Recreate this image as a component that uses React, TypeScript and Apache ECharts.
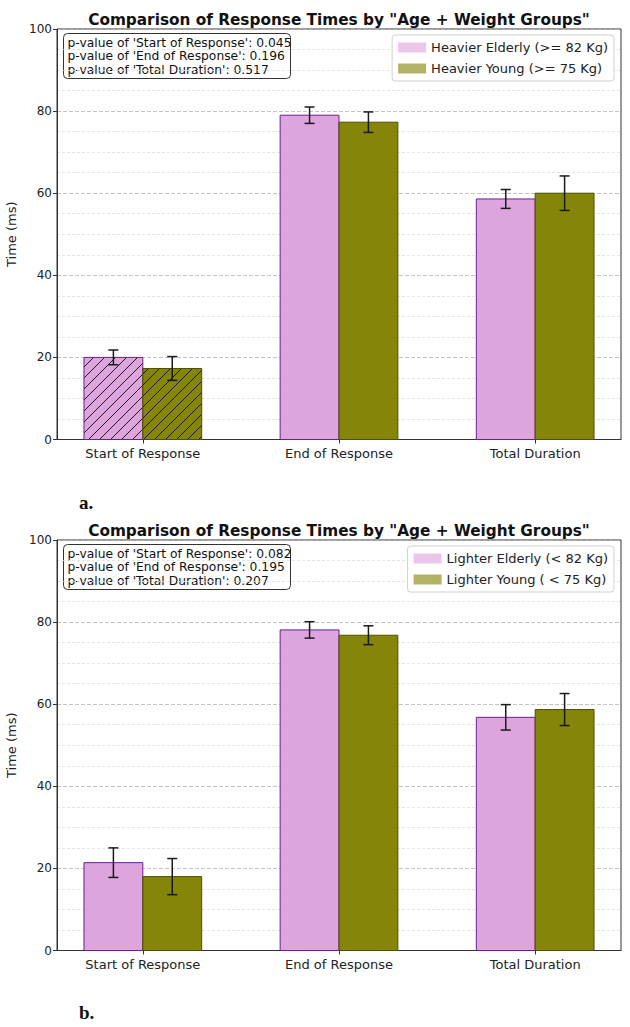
import React, { useEffect, useRef } from "react";
import * as echarts from "echarts";

// Categories shown on both panels
const categories = ["Start of Response", "End of Response", "Total Duration"];

// Panel a: heavier participants
const heavierElderlyMeans = [20.0, 79.0, 58.6];
const heavierElderlyErrors = [1.8, 2.0, 2.3];
const heavierYoungMeans = [17.3, 77.3, 60.0];
const heavierYoungErrors = [2.9, 2.5, 4.2];
const pValuesA = ["0.045", "0.196", "0.517"];

// Panel b: lighter participants
const lighterElderlyMeans = [21.4, 78.1, 56.8];
const lighterElderlyErrors = [3.6, 2.0, 3.1];
const lighterYoungMeans = [18.0, 76.8, 58.7];
const lighterYoungErrors = [4.4, 2.3, 3.9];
const pValuesB = ["0.082", "0.195", "0.207"];

const yTicks = { min: 0, max: 100, step: 20 };

const FONT = "DejaVu Sans";
const BAR_W = 0.3;
const PLUM = "#DDA0DD";
const PLUM_EDGE = "#6E1E8C";
const OLIVE = "#808000";
const OLIVE_EDGE = "#4F4F00";
const PLUM_LEGEND = "rgba(221,160,221,0.6)";
const OLIVE_LEGEND = "rgba(128,128,0,0.6)";

function hatchLines(x0: number, y0: number, x1: number, y1: number, spacing: number, stroke: string) {
  // "/" hatch: lines where x + y = c, clipped to the bar rectangle
  const out: any[] = [];
  const cStart = Math.ceil((x0 + y0) / spacing) * spacing;
  for (let c = cStart; c <= x1 + y1; c += spacing) {
    const xa = Math.max(x0, c - y1);
    const xb = Math.min(x1, c - y0);
    if (xb - xa > 0.5) {
      out.push({
        type: "line",
        shape: { x1: xa, y1: c - xa, x2: xb, y2: c - xb },
        style: { stroke, lineWidth: 1 },
        silent: true,
      });
    }
  }
  return out;
}

function barRenderer(offset: number, fill: string, edge: string, hatch: boolean[]) {
  return (params: any, api: any) => {
    const idx = api.value(0);
    const val = api.value(1);
    const err = api.value(2);
    const tl = api.coord([idx + offset - BAR_W / 2, val]);
    const br = api.coord([idx + offset + BAR_W / 2, 0]);
    const cx = api.coord([idx + offset, 0])[0];
    const top = api.coord([idx + offset, val + err])[1];
    const bot = api.coord([idx + offset, val - err])[1];
    const x0 = tl[0], y0 = tl[1], x1 = br[0], y1 = br[1];
    const children: any[] = [
      {
        type: "rect",
        shape: { x: x0, y: y0, width: x1 - x0, height: y1 - y0 },
        style: { fill, opacity: 0.96 },
      },
    ];
    if (hatch[idx]) children.push(...hatchLines(x0, y0, x1, y1, 11, "#1a1a1a"));
    children.push({
      type: "rect",
      shape: { x: x0, y: y0, width: x1 - x0, height: y1 - y0 },
      style: { fill: "none", stroke: edge, lineWidth: 1 },
    });
    const cap = 5;
    const eb = { stroke: "#1a1a1a", lineWidth: 1.5 };
    children.push(
      { type: "line", shape: { x1: cx, y1: top, x2: cx, y2: bot }, style: eb },
      { type: "line", shape: { x1: cx - cap, y1: top, x2: cx + cap, y2: top }, style: eb },
      { type: "line", shape: { x1: cx - cap, y1: bot, x2: cx + cap, y2: bot }, style: eb }
    );
    return { type: "group", children };
  };
}

function toData(means: number[], errs: number[]) {
  return means.map((m, i) => [i, m, errs[i]]);
}

const GRID_TOPS = [29, 540];
const PLOT_H = 410.5;

function panel(
  k: number,
  names: [string, string],
  elderly: [number[], number[]],
  young: [number[], number[]],
  pvals: string[],
  hatch: boolean[]
) {
  const grid = {
    left: 57,
    right: 9,
    top: GRID_TOPS[k],
    height: PLOT_H,
    show: true,
    borderColor: "#333",
    borderWidth: 1,
    backgroundColor: "transparent",
    outerBoundsMode: "none",
    containLabel: false,
  };
  const xAxis = {
    type: "value",
    gridIndex: k,
    min: -0.4375,
    max: 2.4375,
    splitLine: { show: false },
    axisLine: { show: true, onZero: false, lineStyle: { color: "#333" } },
    axisTick: { show: true, customValues: [0, 1, 2], length: 4, lineStyle: { color: "#333" } },
    axisLabel: {
      customValues: [0, 1, 2],
      formatter: (v: number) => categories[Math.round(v)] ?? "",
      fontFamily: FONT,
      fontSize: 13,
      color: "#222",
      margin: 7,
    },
  };
  const yAxis = {
    type: "value",
    gridIndex: k,
    min: yTicks.min,
    max: yTicks.max,
    interval: yTicks.step,
    name: "Time (ms)",
    nameLocation: "middle",
    nameGap: 32,
    nameRotate: 90,
    nameTextStyle: { fontFamily: FONT, fontSize: 13, color: "#222" },
    axisLine: { show: true, onZero: false, lineStyle: { color: "#333" } },
    axisTick: { show: true, length: 4, lineStyle: { color: "#333" } },
    axisLabel: { fontFamily: FONT, fontSize: 12, color: "#222", margin: 5 },
    splitLine: { show: true, lineStyle: { color: "#b5b5b5", type: [4, 2], width: 0.8 } },
    minorTick: { show: false, splitNumber: 4 },
    minorSplitLine: { show: true, lineStyle: { color: "#dedede", type: [3, 2], width: 0.8 } },
  };
  const series = [
    {
      type: "custom",
      name: names[0],
      xAxisIndex: k,
      yAxisIndex: k,
      itemStyle: { color: PLUM_LEGEND },
      encode: { x: 0, y: 1 },
      renderItem: barRenderer(-0.15, PLUM, PLUM_EDGE, hatch),
      data: toData(elderly[0], elderly[1]),
      z: 3,
    },
    {
      type: "custom",
      name: names[1],
      xAxisIndex: k,
      yAxisIndex: k,
      itemStyle: { color: OLIVE_LEGEND },
      encode: { x: 0, y: 1 },
      renderItem: barRenderer(0.15, OLIVE, OLIVE_EDGE, hatch),
      data: toData(young[0], young[1]),
      z: 3,
    },
  ];
  const legend = {
    data: names.map((n) => ({ name: n, icon: "rect" })),
    orient: "vertical",
    right: 16,
    top: GRID_TOPS[k] + 6,
    itemWidth: 28,
    itemHeight: 10,
    itemGap: 8,
    padding: [6, 6, 6, 6],
    backgroundColor: "rgba(255,255,255,0.85)",
    borderColor: "#d0d0d0",
    borderWidth: 1,
    borderRadius: 3,
    textStyle: { fontFamily: FONT, fontSize: 13, color: "#222" },
  };
  const title = {
    text: 'Comparison of Response Times by "Age + Weight Groups"',
    left: 334,
    textAlign: "center",
    top: GRID_TOPS[k] - 22,
    textStyle: { fontFamily: FONT, fontSize: 15.3, fontWeight: "bold", color: "#111" },
  };
  const pText = [
    `p-value of 'Start of Response': ${pvals[0]}`,
    `p-value of 'End of Response': ${pvals[1]}`,
    `p-value of 'Total Duration': ${pvals[2]}`,
  ].join("\n");
  const graphic = {
    type: "group",
    left: 63,
    top: GRID_TOPS[k] + 4,
    z: 10,
    children: [
      {
        type: "rect",
        shape: { x: 0, y: 0, width: 227, height: 45, r: 4 },
        style: { fill: "rgba(255,255,255,0.9)", stroke: "#333", lineWidth: 1 },
      },
      {
        type: "text",
        x: 4,
        y: 3,
        style: {
          text: pText,
          font: `12.3px "${FONT}"`,
          fill: "#111",
          lineHeight: 13.2,
          textVerticalAlign: "top",
        },
      },
    ],
  };
  return { grid, xAxis, yAxis, series, legend, title, graphic };
}

export default function App() {
  const ref = useRef<HTMLDivElement>(null);

  useEffect(() => {
    if (!ref.current) return;
    const chart = echarts.init(ref.current, null, { renderer: "svg" });
    const a = panel(
      0,
      ["Heavier Elderly (>= 82 Kg)", "Heavier Young (>= 75 Kg)"],
      [heavierElderlyMeans, heavierElderlyErrors],
      [heavierYoungMeans, heavierYoungErrors],
      pValuesA,
      [true, false, false]
    );
    const b = panel(
      1,
      ["Lighter Elderly (< 82 Kg)", "Lighter Young ( < 75 Kg)"],
      [lighterElderlyMeans, lighterElderlyErrors],
      [lighterYoungMeans, lighterYoungErrors],
      pValuesB,
      [false, false, false]
    );
    const panelLabel = (text: string, top: number) => ({
      type: "text",
      left: 79,
      top,
      style: { text, font: 'bold 19px "Liberation Serif"', fill: "#111" },
    });
    chart.setOption({
      animation: false,
      backgroundColor: "#fff",
      title: [a.title, b.title],
      legend: [a.legend, b.legend],
      grid: [a.grid, b.grid],
      xAxis: [a.xAxis, b.xAxis],
      yAxis: [a.yAxis, b.yAxis],
      series: [...a.series, ...b.series],
      graphic: [a.graphic, b.graphic, panelLabel("a.", 493), panelLabel("b.", 1003)],
    });
    return () => chart.dispose();
  }, []);

  return (
    <div
      ref={ref}
      style={{ position: "absolute", left: 0, top: 0, width: 630, height: 1027 }}
    />
  );
}
